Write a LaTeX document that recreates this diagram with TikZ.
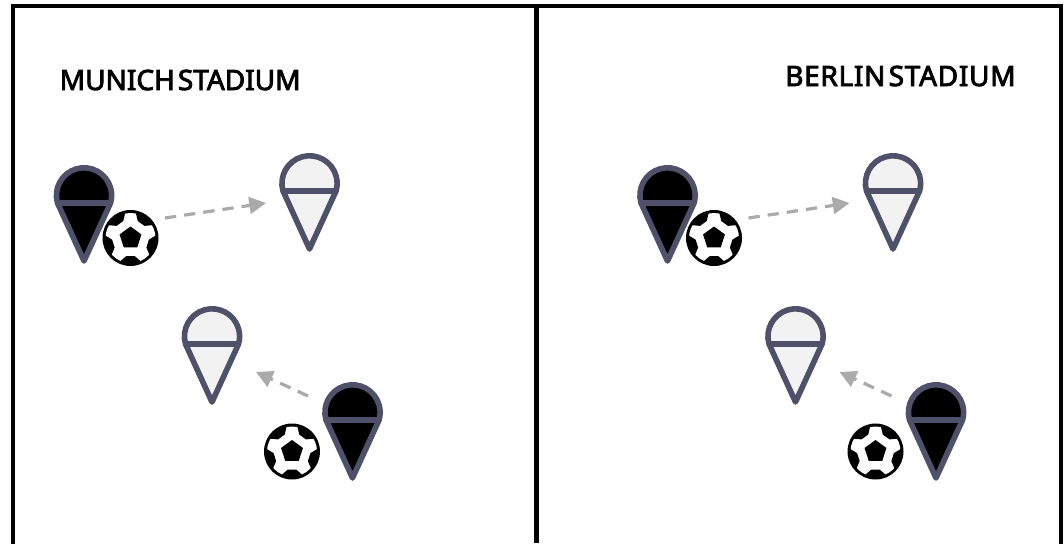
\documentclass[tikz,border=0pt]{standalone}
\usepackage{fontspec}
\newfontfamily\titlefont[WordSpace=0.42,FakeBold=3]{Noto Sans}
\newfontfamily\titlewide[WordSpace=0.42,FakeBold=3,LetterSpace=2.5]{Noto Sans}
\usetikzlibrary{arrows.meta}
\definecolor{pinedge}{HTML}{4F5069}
\definecolor{pinlight}{HTML}{F2F2F2}
\definecolor{arrowgray}{HTML}{AAAAAA}
\tikzset{
 frameline/.style={line width=3pt,black},
 midline/.style={line width=3.75pt,black},
 pinshape/.style={line width=4.2pt,draw=pinedge,line join=round,line cap=round},
 move/.style={arrowgray,line width=2.4pt,dash pattern=on 8.5pt off 6pt,-{Triangle[length=12.5pt,width=12.5pt,fill=arrowgray]}},
 title/.style={inner sep=0pt,font=\fontsize{21}{22}\selectfont\titlefont,anchor=base west},
 titleb/.style={inner sep=0pt,font=\fontsize{21}{22}\selectfont\titlewide,anchor=base west}
}
% #1 name, #2 centre of bar, #3 fill
\newcommand{\mypin}[3]{%
 \begin{scope}[shift={(#2)}]
  \coordinate (#1) at (0,0);
  \draw[pinshape,fill=#3] (-26.5,0) arc[start angle=-196,end angle=16,radius=27.6] -- (0,58) -- cycle;
  \draw[pinshape,line cap=butt] (-27,0) -- (27,0);
 \end{scope}}
\newcommand{\myball}[2]{%
 \begin{scope}[shift={(#2)}]
  \node[circle,fill=black,minimum size=42pt,inner sep=0pt] (#1) at (0,0) {};
  \fill[white] (0,0) circle[radius=25];
  \begin{scope}[yscale=-1]
   \clip (0,0) circle[radius=25.5];
   \fill[black] (90:11.5) -- (162:11.5) -- (234:11.5) -- (306:11.5) -- (18:11.5) -- cycle;
   \foreach \a in {90,162,234,306,18}{
    \begin{scope}[rotate=\a]
     \fill[black] (0:30) -- (27:29) -- (13:18.5) -- (-13:18.5) -- (-27:29) -- cycle;
    \end{scope}}
  \end{scope}
 \end{scope}}
\begin{document}
\begin{tikzpicture}[x=0.75pt,y=-0.75pt]
\useasboundingbox (0,0) rectangle (1064,543);
\coordinate (tl) at (13,5.5);
\coordinate (tm) at (536.5,5.5);
\coordinate (tr) at (1061,5.5);
\coordinate (bl) at (13,543);
\coordinate (bm) at (536.5,543);
\coordinate (br) at (1061,543);
\draw[frameline,line cap=rect] (bl) -- (tl) -- (tr) -- (br);
\draw[midline] (tm) -- (bm);
\node[title] (munich) at (59.5,90) {MUNICH STADIUM};
\node[titleb] (berlin) at (785,86) {BERLIN STADIUM};
\foreach \ox/\p in {0/a,583.5/b}{
 \begin{scope}[shift={(\ox,0)}]
  \mypin{\p1}{84,203}{black}
  \mypin{\p2}{309.5,191}{pinlight}
  \mypin{\p3}{212,344}{pinlight}
  \mypin{\p4}{352.5,420}{black}
  \myball{\p5}{130.5,238}
  \myball{\p6}{292,451.5}
  \coordinate (\p7) at (165,218);
  \coordinate (\p8) at (266,203);
  \coordinate (\p9) at (308,396);
  \coordinate (\p0) at (256,372);
  \draw[move] (\p7) -- (\p8);
  \draw[move] (\p9) -- (\p0);
 \end{scope}}
\end{tikzpicture}
\end{document}
